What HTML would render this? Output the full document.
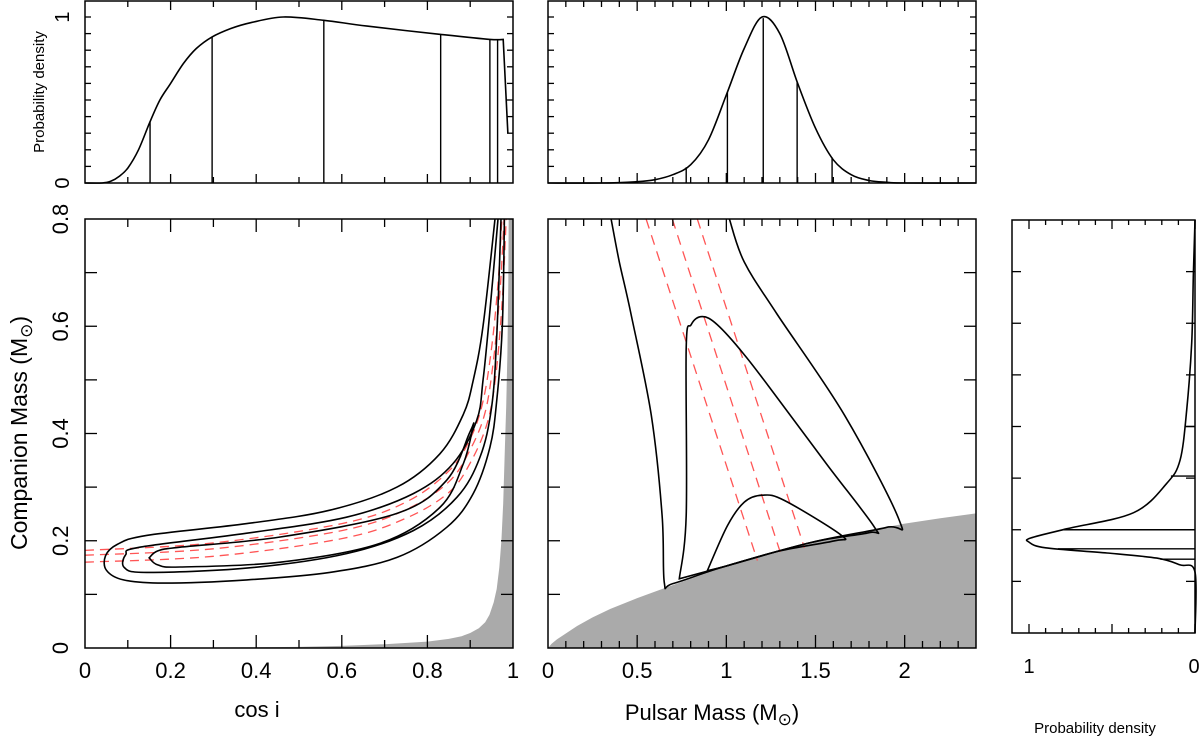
<!DOCTYPE html>
<html><head><meta charset="utf-8"><style>
html,body{margin:0;padding:0;background:#fff;}
svg{display:block;font-family:"Liberation Sans",sans-serif;}
</style></head><body>
<svg id="c" width="1200" height="750" viewBox="0 0 1200 750" xmlns="http://www.w3.org/2000/svg"></svg>
<script>
// ---- data ----
const cosiDensX = [0,0.04,0.06,0.08,0.1,0.125,0.152,0.175,0.2,0.23,0.26,0.297,0.34,0.386,0.463,0.558,0.659,0.831,0.946,0.977,0.988];
const cosiDensY = [0,0,0.01,0.04,0.09,0.2,0.37,0.5,0.6,0.72,0.81,0.88,0.93,0.965,1.0,0.98,0.945,0.895,0.865,0.865,0.30];
const cosiMarks = [0.152,0.297,0.558,0.831,0.946,0.964];
const mpDensX = [0,0.3,0.5,0.6,0.7,0.8,0.9,1.0,1.1,1.2,1.3,1.4,1.5,1.6,1.7,1.8,1.9,2.0,2.4];
const mpDensY = [0,0,0.008,0.02,0.05,0.11,0.26,0.53,0.81,1.0,0.9,0.6,0.33,0.14,0.05,0.015,0.004,0,0];
const mpMarks = [0.775,1.006,1.207,1.397,1.593];
const m2DensM = [0.8,0.69,0.562,0.432,0.335,0.29,0.233,0.202,0.184,0.176,0.165,0.155,0.145,0.132,0.118,0];
const m2DensD = [0,0.01,0.02,0.05,0.09,0.17,0.37,0.77,0.99,1.0,0.9,0.53,0.23,0.09,0,0];
const m2Marks = [0.4,0.304,0.2,0.163,0.143];
// left panel contours [cosi, m2]
const leftOuter = [[0.958,0.8],[0.93,0.6],[0.907,0.499],[0.884,0.436],[0.829,0.362],[0.729,0.300],[0.572,0.257],[0.378,0.232],[0.144,0.210],[0.075,0.193],[0.048,0.172],[0.05,0.145],[0.090,0.127],[0.183,0.121],[0.378,0.127],[0.572,0.141],[0.729,0.169],[0.845,0.225],[0.907,0.288],[0.946,0.374],[0.962,0.461],[0.975,0.6],[0.98,0.8]];
const leftMid = [[0.965,0.8],[0.945,0.62],[0.930,0.499],[0.915,0.424],[0.860,0.344],[0.767,0.288],[0.611,0.244],[0.378,0.214],[0.128,0.188],[0.095,0.174],[0.092,0.150],[0.144,0.141],[0.378,0.149],[0.611,0.176],[0.767,0.219],[0.869,0.281],[0.923,0.356],[0.950,0.449],[0.962,0.58],[0.972,0.8]];
const leftInner = [[0.15,0.168],[0.17,0.155],[0.222,0.151],[0.456,0.160],[0.689,0.195],[0.829,0.262],[0.884,0.344],[0.907,0.415],[0.899,0.402],[0.845,0.313],[0.729,0.251],[0.456,0.207],[0.222,0.188],[0.17,0.181],[0.15,0.168]];
const leftRed1 = [[0,0.182],[0.3,0.196],[0.6,0.232],[0.75,0.272],[0.85,0.33],[0.9,0.39],[0.93,0.46],[0.95,0.56],[0.965,0.68],[0.974,0.8]];
const leftRed2 = [[0,0.173],[0.3,0.185],[0.6,0.219],[0.75,0.258],[0.85,0.31],[0.9,0.37],[0.935,0.44],[0.955,0.54],[0.97,0.67],[0.979,0.8]];
const leftRed3 = [[0,0.160],[0.3,0.171],[0.6,0.204],[0.75,0.242],[0.85,0.29],[0.9,0.345],[0.94,0.42],[0.96,0.51],[0.975,0.65],[0.984,0.8]];
const leftGray = [[0,0],[0.3,0.001],[0.5,0.002],[0.6,0.004],[0.7,0.007],[0.8,0.012],[0.85,0.017],[0.88,0.022],[0.9,0.028],[0.92,0.037],[0.935,0.048],[0.945,0.062],[0.955,0.085],[0.962,0.11],[0.968,0.15],[0.973,0.2],[0.977,0.27],[0.981,0.374],[0.984,0.45],[0.987,0.55],[0.989,0.68],[0.99,0.8]];
// middle panel [mp, m2]
const midGray = [[0,0],[0.02,0.008],[0.05,0.016],[0.1,0.027],[0.163,0.041],[0.25,0.057],[0.35,0.073],[0.5,0.093],[0.69,0.116],[0.85,0.135],[1.0,0.152],[1.2,0.172],[1.478,0.197],[1.7,0.213],[2.0,0.232],[2.2,0.242],[2.4,0.251]];
const midOuter = [[0.354,0.8],[0.40,0.72],[0.466,0.622],[0.579,0.434],[0.64,0.247],[0.652,0.122],[0.70,0.12],[1.0,0.153],[1.478,0.197],[1.90,0.225],[1.97,0.238],[1.663,0.434],[1.286,0.622],[1.10,0.72],[1.017,0.8]];
const midMid = [[0.736,0.129],[0.775,0.247],[0.775,0.56],[0.803,0.603],[0.865,0.618],[0.949,0.603],[1.101,0.547],[1.287,0.466],[1.567,0.341],[1.831,0.225],[1.80,0.215],[1.478,0.197],[1.0,0.153],[0.736,0.129]];
const midInner = [[0.893,0.144],[1.006,0.228],[1.101,0.272],[1.202,0.285],[1.326,0.275],[1.646,0.210],[1.607,0.200],[1.3,0.181],[1.0,0.153],[0.893,0.144]];
const midRed1 = [[0.55,0.8],[1.174,0.163]];
const midRed2 = [[0.697,0.8],[1.309,0.172]];
const midRed3 = [[0.837,0.8],[1.438,0.187]];
const xTicksCos = ["0","0.2","0.4","0.6","0.8","1"];
const xTicksMp = ["0","0.5","1","1.5","2"];
const yTicksM = ["0","0.2","0.4","0.6","0.8"];

// ---- scales ----
const NS="http://www.w3.org/2000/svg";
const svg=document.getElementById('c');
const L={x0:85,x1:513,y0:648,y1:219};
const M={x0:548,x1:976,y0:648,y1:219};
const TL={x0:85,x1:513,y0:183,y1:1};
const TM={x0:548,x1:976,y0:183,y1:1};
const R={x0:1012,x1:1195,y0:633,y1:220};
const sxCos=v=>L.x0+v*(L.x1-L.x0);
const syM=v=>L.y0-v/0.8*(L.y0-L.y1);
const sxMp=v=>M.x0+v/2.4*(M.x1-M.x0);
const syD=v=>183-v*166;
const rxD=v=>1195-v*166;
const ryM=v=>R.y0-v/0.8*(R.y0-R.y1);

function el(tag,attrs,parent){const e=document.createElementNS(NS,tag);for(const k in attrs)e.setAttribute(k,attrs[k]);(parent||svg).appendChild(e);return e;}
function smooth(pts,closed){
  if(pts.length<3){return 'M'+pts.map(p=>p[0].toFixed(1)+','+p[1].toFixed(1)).join('L');}
  let d='M'+pts[0][0].toFixed(1)+','+pts[0][1].toFixed(1);
  for(let i=0;i<pts.length-1;i++){
    const p0=pts[i-1]||pts[i],p1=pts[i],p2=pts[i+1],p3=pts[i+2]||p2;
    const c1=[p1[0]+(p2[0]-p0[0])/6,p1[1]+(p2[1]-p0[1])/6];
    const c2=[p2[0]-(p3[0]-p1[0])/6,p2[1]-(p3[1]-p1[1])/6];
    d+='C'+c1[0].toFixed(1)+','+c1[1].toFixed(1)+' '+c2[0].toFixed(1)+','+c2[1].toFixed(1)+' '+p2[0].toFixed(1)+','+p2[1].toFixed(1);
  }
  return d+(closed?'Z':'');
}
const poly=pts=>'M'+pts.map(p=>p[0].toFixed(1)+','+p[1].toFixed(1)).join('L');
function box(b,name){
  const r=el('rect',{x:b.x0,y:b.y1,width:b.x1-b.x0,height:b.y0-b.y1,fill:'none',stroke:'#000','stroke-width':1.5});
  
  
}
function tick(x1,y1,x2,y2){el('line',{x1,y1,x2,y2,stroke:'#000','stroke-width':1.3});}
function text(x,y,s,size,name,rot,anchor){
  const t=el('text',{x,y,'font-size':size,'text-anchor':anchor||'middle',fill:'#000'});
  if(rot)t.setAttribute('transform','rotate('+rot+' '+x+' '+y+')');
  t.textContent=s;
  
  
  return t;
}
function path(d,attrs,name){
  const p=el('path',Object.assign({d,fill:'none',stroke:'#000','stroke-width':1.6},attrs));
  
  
  return p;
}
const mapL=a=>a.map(p=>[sxCos(p[0]),syM(p[1])]);
const mapM=a=>a.map(p=>[sxMp(p[0]),syM(p[1])]);

// ---- left main panel ----
path(poly(mapL(leftGray))+'L'+sxCos(1)+','+syM(0.8)+'L'+sxCos(1)+','+syM(0)+'Z',{fill:'#aaaaaa',stroke:'none'},'excluded-region-left');
[leftRed1,leftRed2,leftRed3].forEach((a,i)=>path(smooth(mapL(a)),{stroke:'#ff5555','stroke-width':1.3,'stroke-dasharray':'9,6'},'red-constraint-left-'+(i+1)));
path(smooth(mapL(leftOuter)),{},'contour-outer-left');
path(smooth(mapL(leftMid)),{},'contour-middle-left');
path(smooth(mapL(leftInner),true),{},'contour-inner-left');
box(L,'cosi-mass-panel');
for(let i=1;i<10;i++){const x=sxCos(i/10),len=i%2?8:13;tick(x,L.y0,x,L.y0-len);tick(x,L.y1,x,L.y1+len);}
for(let i=1;i<8;i++){const y=syM(i/10);tick(L.x0,y,L.x0+12,y);tick(L.x1,y,L.x1-12,y);}
xTicksCos.forEach((s,i)=>text(sxCos(i*0.2),678,s,22,'x-tick-cosi'));
yTicksM.forEach((s,i)=>text(68,syM(i*0.2),s,22,'y-tick-mass',-90));
text(257,717,'cos i',22,'x-axis-title-cosi');
const yt=text(27,433,'',23,'y-axis-title',-90);
yt.innerHTML='Companion Mass (M<tspan dy="5" font-size="17">⊙</tspan><tspan dy="-5">)</tspan>';

// ---- middle main panel ----
path(poly(mapM(midGray))+'L'+M.x1+','+M.y0+'L'+M.x0+','+M.y0+'Z',{fill:'#aaaaaa',stroke:'none'},'excluded-region-middle');
[midRed1,midRed2,midRed3].forEach((a,i)=>path(poly(mapM(a)),{stroke:'#ff5555','stroke-width':1.3,'stroke-dasharray':'10,7'},'red-constraint-middle-'+(i+1)));
path(smooth(mapM(midOuter)),{},'contour-outer-middle');
path(smooth(mapM(midMid),true),{},'contour-middle-middle');
path(smooth(mapM(midInner),true),{},'contour-inner-middle');
box(M,'pulsar-mass-panel');
for(let i=1;i<24;i++){const x=sxMp(i/10),len=i%5?7:13;tick(x,M.y0,x,M.y0-len);tick(x,M.y1,x,M.y1+len);}
for(let i=1;i<8;i++){const y=syM(i/10);tick(M.x0,y,M.x0+12,y);tick(M.x1,y,M.x1-12,y);}
xTicksMp.forEach((s,i)=>text(sxMp(i*0.5),678,s,22,'x-tick-pulsar-mass'));
const xt=text(712,720,'',22,'x-axis-title-pulsar-mass');
xt.innerHTML='Pulsar Mass (M<tspan dy="5" font-size="17">⊙</tspan><tspan dy="-5">)</tspan>';

// ---- top-left density ----
box(TL,'cosi-density-panel');
const tlPts=cosiDensX.map((v,i)=>[sxCos(v),syD(cosiDensY[i])]);
path(smooth(tlPts.slice(0,-1))+'L'+tlPts[tlPts.length-1].join(','),{},'cosi-density-curve');
cosiMarks.forEach(v=>{let k=cosiDensX.findIndex(x=>x>=v);const a=cosiDensX[k-1],b=cosiDensX[k];const d=cosiDensY[k-1]+(cosiDensY[k]-cosiDensY[k-1])*(v-a)/(b-a);
  const l=el('line',{x1:sxCos(v),y1:183,x2:sxCos(v),y2:syD(d),stroke:'#000','stroke-width':1.4});});
for(let i=1;i<10;i++){const x=sxCos(i/10),len=i%2?6:9;tick(x,183,x,183-len);tick(x,1,x,1+len);}
for(let i=1;i<=10;i++){const y=syD(i/10);tick(85,y,91,y);tick(513,y,507,y);}
text(69,183,'0',20,'y-tick-density-left',-90);
text(69,17,'1',20,'y-tick-density-left',-90);
text(44,92,'Probability density',15,'y-axis-title-density',-90);

// ---- top-middle density ----
box(TM,'pulsar-mass-density-panel');
path(smooth(mpDensX.map((v,i)=>[sxMp(v),syD(mpDensY[i])])),{},'pulsar-mass-density-curve');
mpMarks.forEach(v=>{let k=mpDensX.findIndex(x=>x>=v);const a=mpDensX[k-1],b=mpDensX[k];const d=k>0?mpDensY[k-1]+(mpDensY[k]-mpDensY[k-1])*(v-a)/(b-a):mpDensY[0];
  const l=el('line',{x1:sxMp(v),y1:183,x2:sxMp(v),y2:syD(d),stroke:'#000','stroke-width':1.4});});
for(let i=1;i<24;i++){const x=sxMp(i/10),len=i%5?6:10;tick(x,183,x,183-len);tick(x,1,x,1+len);}
for(let i=1;i<=10;i++){const y=syD(i/10);tick(548,y,554,y);tick(976,y,970,y);}

// ---- right density ----
box(R,'companion-mass-density-panel');
path(smooth(m2DensM.map((v,i)=>[rxD(m2DensD[i]),ryM(v)])),{},'companion-mass-density-curve');
m2Marks.forEach(v=>{let k=m2DensM.findIndex(x=>x<=v);const a=m2DensM[k-1],b=m2DensM[k];const d=m2DensD[k-1]+(m2DensD[k]-m2DensD[k-1])*(v-a)/(b-a);
  const l=el('line',{x1:rxD(d),y1:ryM(v),x2:1195,y2:ryM(v),stroke:'#000','stroke-width':1.4});});
for(let i=0;i<=10;i++){const x=rxD(i/10),len=i%5?5:9;tick(x,R.y0,x,R.y0-len);tick(x,R.y1,x,R.y1+len);}
for(let i=1;i<8;i++){const y=ryM(i/10);tick(R.x0,y,R.x0+9,y);tick(R.x1,y,R.x1-9,y);}
text(rxD(1),673,'1',20,'x-tick-density-right');
text(1194,673,'0',20,'x-tick-density-right');
text(1095,733,'Probability density',15,'x-axis-title-density');
</script>
</body></html>
